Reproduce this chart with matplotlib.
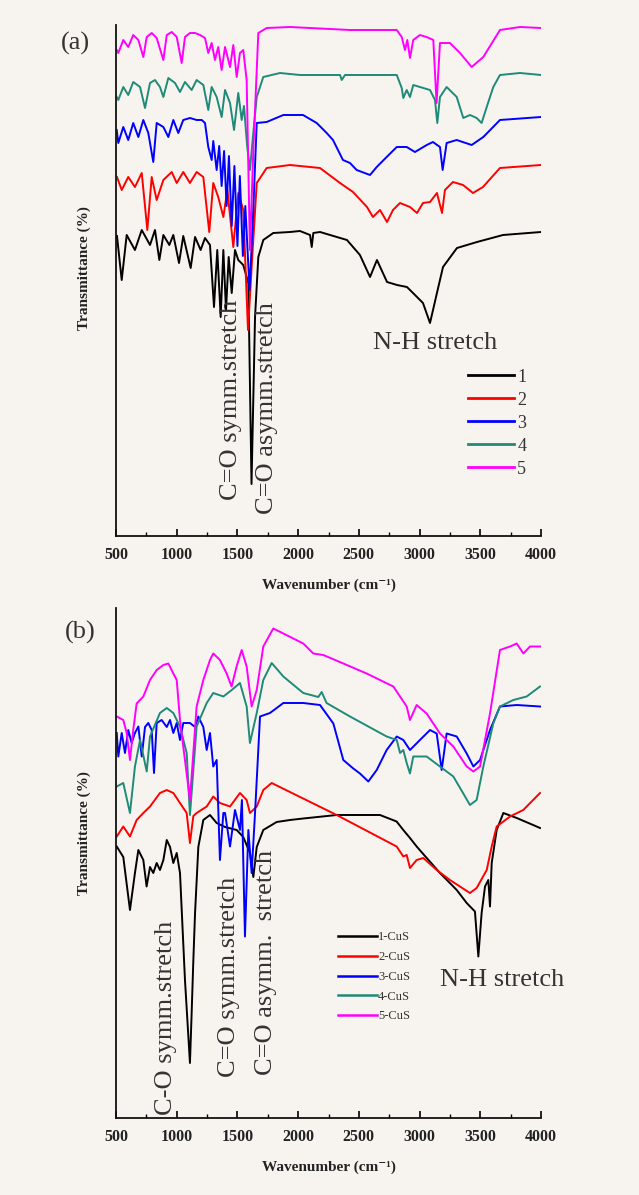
import matplotlib
matplotlib.use("Agg")
import matplotlib.pyplot as plt
from matplotlib.ticker import MultipleLocator

# ---------------- data: (a) ligands ----------------
a1_w = [508, 547, 588, 656, 712, 780, 821, 857, 890, 939, 972, 1019, 1054, 1115, 1151, 1197, 1233, 1274,
        1307, 1334, 1362, 1384, 1406, 1428, 1453, 1480, 1507, 1548, 1590, 1616, 1645, 1672, 1713, 1795,
        1933, 2015, 2098, 2112, 2125, 2180, 2402, 2509, 2592, 2649, 2732, 2814, 2896, 2946, 3028, 3086,
        3143, 3193, 3308, 3473, 3687, 4000]
a1_t = [60.0, 51.2, 60.2, 57.2, 61.2, 58.2, 61.2, 55.2, 60.2, 58.2, 60.2, 54.6, 60.0, 53.6, 59.8, 57.2, 59.6, 58.2,
        45.8, 57.2, 43.8, 57.2, 45.2, 55.8, 48.6, 57.2, 55.2, 54.2, 50.6, 10.4, 43.8, 55.8, 59.2, 60.6,
        60.8, 61.0, 60.2, 57.8, 60.6, 60.8, 59.2, 56.2, 51.8, 55.2, 50.8, 50.2, 49.8, 48.6, 46.6, 42.6,
        48.6, 53.8, 57.6, 58.8, 60.2, 60.8]

a2_w = [508, 547, 601, 656, 712, 758, 794, 835, 890, 959, 1000, 1054, 1109, 1164, 1219, 1268, 1301, 1342,
        1384, 1417, 1466, 1507, 1548, 1587, 1620, 1659, 1741, 1933, 2180, 2345, 2452, 2567, 2616, 2674,
        2732, 2781, 2839, 2921, 2979, 3028, 3086, 3143, 3185, 3209, 3275, 3358, 3440, 3522, 3662, 4000]
a2_t = [71.8, 69.2, 71.8, 69.8, 72.6, 61.2, 71.8, 67.2, 71.2, 72.8, 70.6, 72.8, 70.6, 72.8, 71.8, 60.8, 70.6, 67.8,
        63.8, 69.2, 57.8, 68.6, 65.2, 41.2, 55.0, 70.6, 73.6, 74.2, 73.6, 70.6, 68.8, 65.8, 63.8, 65.2,
        62.8, 65.2, 66.6, 65.8, 64.6, 66.6, 66.8, 68.6, 64.6, 69.2, 70.8, 70.2, 68.6, 69.8, 73.6, 74.2]

a3_w = [506, 519, 560, 601, 642, 684, 725, 766, 807, 835, 890, 931, 972, 1013, 1054, 1109, 1164, 1206, 1233,
        1260, 1288, 1301, 1329, 1350, 1370, 1390, 1411, 1430, 1453, 1475, 1500, 1520, 1545, 1565, 1600,
        1625, 1659, 1741, 1878, 2040, 2153, 2235, 2287, 2369, 2427, 2482, 2592, 2647, 2729, 2812, 2894,
        2962, 3059, 3110, 3168, 3190, 3223, 3306, 3429, 3525, 3662, 4000]
a3_t = [81.2, 78.6, 81.8, 79.2, 82.6, 79.8, 83.2, 80.6, 74.8, 82.6, 81.8, 79.8, 83.2, 80.6, 83.2, 83.6, 83.2, 83.2, 82.6,
        77.8, 75.2, 79.0, 73.2, 78.0, 70.0, 77.0, 66.0, 76.0, 62.0, 74.0, 58.0, 72.0, 56.0, 66.0, 49.2,
        62.0, 82.6, 82.8, 84.2, 84.2, 82.6, 80.6, 79.2, 75.2, 74.6, 73.2, 72.2, 73.8, 75.8, 77.8, 77.8,
        76.8, 78.2, 78.8, 77.8, 73.2, 78.6, 79.2, 78.2, 79.8, 83.2, 83.8]

a4_w = [506, 519, 560, 601, 642, 698, 739, 780, 821, 862, 890, 931, 986, 1027, 1068, 1123, 1164, 1219, 1260,
        1288, 1329, 1370, 1398, 1439, 1472, 1507, 1535, 1554, 1580, 1603, 1628, 1659, 1713, 1851, 2015,
        2345, 2359, 2386, 2812, 2853, 2866, 2894, 2921, 2948, 3003, 3086, 3127, 3146, 3168, 3223, 3306,
        3360, 3415, 3470, 3511, 3553, 3607, 3662, 3827, 4000]
a4_t = [87.8, 87.2, 89.8, 88.2, 90.8, 89.8, 85.6, 90.6, 91.2, 89.8, 87.8, 91.6, 90.6, 88.8, 90.8, 89.2, 91.2, 90.2, 85.2,
        89.8, 87.8, 83.8, 89.2, 86.6, 81.2, 88.6, 83.2, 86.0, 78.0, 73.2, 80.0, 87.8, 91.8, 92.6, 92.2,
        92.2, 91.2, 92.2, 92.2, 89.6, 87.6, 89.2, 87.8, 90.2, 89.8, 89.2, 87.2, 82.6, 87.8, 89.8, 87.8,
        83.6, 84.2, 83.6, 82.6, 85.8, 89.8, 92.2, 92.6, 92.2]

a5_w = [506, 519, 560, 601, 642, 684, 725, 753, 794, 835, 890, 918, 959, 1000, 1041, 1068, 1109, 1151, 1192,
        1233, 1260, 1288, 1315, 1342, 1370, 1398, 1439, 1466, 1494, 1521, 1548, 1576, 1603, 1631, 1672,
        1741, 1933, 2427, 2812, 2853, 2880, 2899, 2921, 2948, 3003, 3058, 3113, 3140, 3168, 3250, 3333,
        3429, 3525, 3662, 3827, 4000]
a5_t = [97.2, 96.6, 99.2, 97.8, 100.2, 99.2, 95.8, 99.8, 100.6, 99.6, 95.2, 100.2, 100.8, 99.8, 94.6, 99.8, 100.6, 100.6, 100.2,
        99.6, 96.6, 98.6, 95.2, 97.8, 93.2, 97.8, 93.8, 98.2, 91.8, 96.6, 97.2, 91.2, 57.2, 77.2, 100.6,
        101.6, 101.8, 101.2, 101.2, 99.8, 97.2, 99.2, 95.6, 99.2, 100.2, 99.8, 99.2, 86.6, 98.6, 98.6, 96.6,
        93.8, 95.8, 101.2, 101.8, 101.6]

# ---------------- data: (b) CuS ----------------
b1_w = [506, 560, 615, 656, 684, 725, 752, 780, 807, 835, 862, 890, 918, 945, 972, 1000, 1027, 1068, 1109,
        1123, 1137, 1151, 1178, 1219, 1274, 1329, 1398, 1494, 1548, 1603, 1631, 1659, 1713, 1823, 1933,
        2042, 2317, 2674, 2811, 2866, 2921, 2976, 3059, 3168, 3306, 3388, 3456, 3484, 3511, 3539, 3566,
        3580, 3594, 3635, 3690, 3800, 3964, 3992]
b1_t = [54.3, 52.2, 41.6, 49.0, 53.6, 51.6, 46.3, 50.2, 49.0, 51.0, 49.6, 51.6, 55.6, 54.2, 51.0, 53.0, 49.0, 27.6, 11.0,
        21.0, 31.6, 41.0, 54.2, 59.6, 60.6, 59.0, 58.2, 57.6, 56.2, 53.0, 48.2, 54.2, 57.6, 59.2, 59.6,
        59.9, 60.6, 60.6, 59.3, 57.6, 56.0, 54.3, 52.0, 49.0, 45.6, 43.0, 41.3, 32.3, 41.0, 46.3, 47.6,
        42.3, 51.0, 57.6, 61.0, 60.0, 58.3, 58.0]

b2_w = [506, 560, 615, 670, 725, 780, 862, 918, 972, 1027, 1082, 1109, 1137, 1164, 1247, 1301, 1356, 1439,
        1521, 1576, 1603, 1659, 1713, 1782, 2317, 2811, 2866, 2894, 2921, 2976, 3031, 3141, 3250, 3415,
        3470, 3553, 3594, 3635, 3745, 3854, 3992]
b2_t = [56.3, 58.3, 56.3, 59.6, 61.0, 62.3, 65.0, 65.6, 65.0, 63.0, 61.0, 55.0, 60.4, 61.0, 62.3, 64.3, 63.0, 62.3,
        65.0, 63.6, 61.0, 62.3, 65.6, 67.0, 60.6, 54.3, 52.3, 52.6, 50.0, 51.6, 52.0, 49.6, 47.6, 45.0,
        46.0, 49.6, 54.3, 58.3, 60.3, 61.6, 65.0]

b3_w = [506, 519, 547, 574, 601, 629, 656, 684, 712, 739, 766, 794, 813, 835, 876, 918, 945, 972, 1000,
        1027, 1054, 1109, 1151, 1178, 1219, 1247, 1274, 1301, 1329, 1356, 1384, 1398, 1439, 1480, 1521,
        1537, 1562, 1590, 1617, 1645, 1686, 1768, 1878, 2042, 2180, 2290, 2372, 2454, 2509, 2578, 2647,
        2729, 2812, 2866, 2921, 3003, 3086, 3141, 3182, 3223, 3306, 3388, 3443, 3498, 3580, 3662, 3800, 3992]
b3_t = [77.0, 72.3, 77.0, 73.0, 77.6, 75.0, 77.0, 78.3, 72.3, 78.2, 79.0, 77.6, 69.0, 79.0, 79.6, 78.2, 79.6, 77.0, 79.0,
        75.6, 79.0, 79.0, 78.2, 80.3, 78.2, 73.6, 77.0, 70.3, 71.6, 51.6, 61.0, 61.0, 54.3, 61.6, 57.6,
        63.6, 36.3, 57.6, 49.0, 61.0, 80.3, 81.0, 83.0, 83.0, 82.6, 78.9, 71.6, 69.9, 68.9, 67.3, 69.6,
        73.6, 76.3, 75.6, 73.6, 75.6, 77.6, 76.9, 69.6, 76.9, 76.3, 72.9, 70.3, 71.6, 77.6, 82.3, 82.6, 82.3]

b4_w = [506, 560, 615, 656, 698, 753, 780, 862, 918, 972, 1027, 1082, 1109, 1164, 1247, 1301, 1384, 1453,
        1521, 1576, 1603, 1659, 1713, 1782, 1878, 2042, 2166, 2194, 2234, 2427, 2729, 2812, 2839, 2866,
        2894, 2921, 2948, 3058, 3168, 3278, 3360, 3415, 3470, 3525, 3607, 3662, 3772, 3882, 3992]
b4_t = [66.3, 67.0, 61.0, 70.3, 75.6, 69.3, 76.3, 81.0, 82.0, 81.0, 78.3, 73.0, 60.6, 78.3, 83.0, 85.0, 84.3, 85.6,
        87.0, 82.3, 75.0, 81.0, 87.6, 91.0, 88.3, 85.0, 84.2, 85.2, 83.0, 80.3, 76.3, 75.6, 73.0, 73.6,
        71.0, 68.9, 72.3, 72.3, 70.3, 68.3, 64.9, 62.6, 63.6, 70.3, 78.9, 82.3, 83.6, 84.3, 86.3]

b5_w = [506, 560, 588, 615, 642, 670, 725, 780, 835, 890, 931, 972, 1000, 1027, 1054, 1109, 1164, 1219, 1274,
        1301, 1356, 1411, 1452, 1493, 1535, 1576, 1617, 1659, 1713, 1795, 1878, 2042, 2125, 2207, 2372,
        2564, 2784, 2839, 2894, 2921, 2976, 3058, 3168, 3278, 3388, 3443, 3498, 3580, 3662, 3745, 3800,
        3855, 3909, 3992]
b5_t = [80.3, 79.6, 77.0, 71.6, 77.6, 82.9, 84.3, 87.6, 89.6, 90.6, 90.9, 88.9, 87.6, 79.6, 74.3, 63.6, 82.3, 87.6, 91.6,
        92.9, 91.6, 88.9, 86.3, 90.3, 93.6, 90.3, 82.3, 85.6, 94.3, 97.9, 96.9, 94.9, 92.9, 92.6, 90.9,
        88.9, 86.3, 84.3, 82.3, 79.6, 82.6, 80.9, 76.9, 74.3, 70.3, 69.3, 70.3, 80.9, 93.6, 94.3, 94.9,
        92.9, 94.3, 94.3]

colors = ['#000000', '#ff0000', '#0000ff', '#1f8a78', '#ff00ff']
labels_a = ['1', '2', '3', '4', '5']
labels_b = ['1-CuS', '2-CuS', '3-CuS', '4-CuS', '5-CuS']

serif = ['Liberation Serif', 'DejaVu Serif']
bg = '#f7f4f0'
txt = '#333333'

fig = plt.figure(figsize=(6.39, 11.95), dpi=100, facecolor=bg)
W, H = 639.0, 1195.0


def style_axis(ax, top):
    ax.set_facecolor('none')
    ax.set_xlim(500, 4000)
    ax.set_ylim(0, top)
    for s in ['top', 'right']:
        ax.spines[s].set_visible(False)
    for s in ['left', 'bottom']:
        ax.spines[s].set_linewidth(1.3)
        ax.spines[s].set_color('#111111')
    ax.set_yticks([])
    ax.xaxis.set_major_locator(MultipleLocator(500))
    ax.xaxis.set_minor_locator(MultipleLocator(250))
    ax.tick_params(axis='x', which='major', direction='in', length=5, width=1.2, pad=8)
    ax.tick_params(axis='x', which='minor', direction='in', length=3, width=1.0)
    for lab in ax.get_xticklabels():
        lab.set_fontfamily(serif)
        lab.set_fontweight('bold')
        lab.set_fontsize(11.5)
        lab.set_color('#222222')
    ax.text(0.5, -0.096, 'Wavenumber (cm⁻¹)', transform=ax.transAxes, ha='center', va='center',
            family=serif, fontweight='bold', fontsize=11, color='#222222')


# panel (a)
ax_a = fig.add_axes([116 / W, 1 - 536 / H, 425 / W, 511 / H])
series_a = [(a1_w, a1_t), (a2_w, a2_t), (a3_w, a3_t), (a4_w, a4_t), (a5_w, a5_t)]
for (w, t), c, lab in zip(series_a, colors, labels_a):
    ax_a.plot(w, t, color=c, lw=1.4, label=lab)
style_axis(ax_a, 102.2)
leg = ax_a.legend(loc='upper left', bbox_to_anchor=(0.808, 0.345), frameon=False, borderpad=0,
                  handlelength=2.5, handletextpad=0.2, labelspacing=0.33,
                  prop={'family': serif, 'size': 13})
for tx in leg.get_texts():
    tx.set_color(txt)
for ln in leg.get_lines():
    ln.set_linewidth(2.0)

ann = dict(family=serif, fontsize=19, color=txt, rotation=90, ha='center', va='center')
fig.text(231 / W, 1 - 400 / H, 'C=O symm.stretch', **ann)
fig.text(267 / W, 1 - 408 / H, 'C=O asymm.stretch', **ann)
fig.text(435 / W, 1 - 343 / H, 'N-H stretch', family=serif, fontsize=19, color=txt, ha='center', va='center')
fig.text(75 / W, 1 - 43 / H, '(a)', family=serif, fontsize=19, color=txt, ha='center', va='center')
fig.text(84 / W, 1 - 268 / H, 'Transmittance (%)', family=serif, fontweight='bold', fontsize=11,
         color='#222222', rotation=90, ha='center', va='center')

# panel (b)
ax_b = fig.add_axes([116 / W, 1 - 1118 / H, 425 / W, 510 / H])
series_b = [(b1_w, b1_t), (b2_w, b2_t), (b3_w, b3_t), (b4_w, b4_t), (b5_w, b5_t)]
for (w, t), c, lab in zip(series_b, colors, labels_b):
    ax_b.plot(w, t, color=c, lw=1.4, label=lab)
style_axis(ax_b, 102)
leg = ax_b.legend(loc='upper left', bbox_to_anchor=(0.508, 0.378), frameon=False, borderpad=0,
                  handlelength=3.1, handletextpad=0.1, labelspacing=0.62,
                  prop={'family': serif, 'size': 9})
for tx in leg.get_texts():
    tx.set_color(txt)
for ln in leg.get_lines():
    ln.set_linewidth(1.8)

fig.text(166 / W, 1 - 1018 / H, 'C-O symm.stretch', **ann)
fig.text(229 / W, 1 - 977 / H, 'C=O symm.stretch', **ann)
fig.text(266 / W, 1 - 962 / H, 'C=O asymm.  stretch', **ann)
fig.text(502 / W, 1 - 980 / H, 'N-H stretch', family=serif, fontsize=19, color=txt, ha='center', va='center')
fig.text(80 / W, 1 - 632 / H, '(b)', family=serif, fontsize=19, color=txt, ha='center', va='center')
fig.text(84 / W, 1 - 833 / H, 'Transmittance (%)', family=serif, fontweight='bold', fontsize=11,
         color='#222222', rotation=90, ha='center', va='center')

fig.savefig('out.png', dpi=100, facecolor=bg)
